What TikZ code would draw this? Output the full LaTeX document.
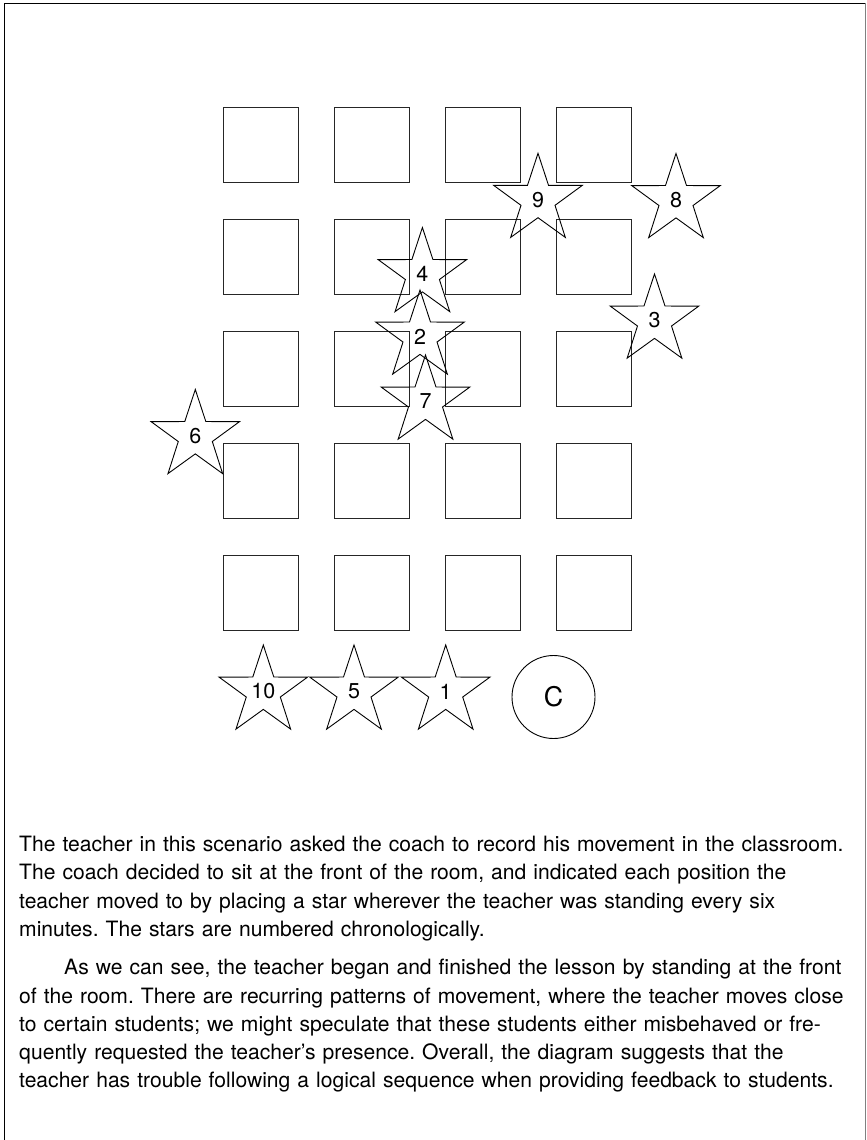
\documentclass[tikz,border=0pt]{standalone}
\usepackage{fontspec}
\setmainfont{TeX Gyre Heros}
\usepackage{tikz}
\usetikzlibrary{shapes.geometric}
\frenchspacing

\begin{document}
\begin{tikzpicture}[x=1pt, y=-1pt]
\tikzstyle{desk}=[rectangle, draw=black!85, line width=1.1pt, minimum size=75pt, anchor=north west, inner sep=0pt]
\tikzstyle{spot}=[star, star points=5, star point ratio=2.6, draw, line width=0.9pt, minimum size=93pt, inner sep=0pt, font=\fontsize{21.5}{21.5}\selectfont]
\tikzstyle{seat}=[circle, draw, line width=0.9pt, minimum size=83pt, inner sep=0pt, font=\fontsize{27}{27}\selectfont]
\tikzstyle{frame}=[line width=1.3pt]

\useasboundingbox (0,0) rectangle (867,1140);
\draw[frame] (4.5,1140) -- (4.5,3.5) -- (865.5,3.5);
\draw[frame, gray] (865.5,3.5) -- (865.5,1140);

% desks, five rows of four
\foreach \r in {0,...,4}
  \foreach \c in {0,...,3}
    \node[desk] (d\r\c) at (223+111*\c, 107+112*\r) {};

% where the teacher stood
\node[spot] (s1) at (445.7,691.5) {1};
\node[spot] (s2) at (420,336.5) {2};
\node[spot] (s3) at (654.5,320.5) {3};
\node[spot] (s4) at (422.4,274) {4};
\node[spot] (s5) at (354,691.5) {5};
\node[spot] (s6) at (195.3,436) {6};
\node[spot] (s7) at (425.5,401.5) {7};
\node[spot] (s8) at (676,200) {8};
\node[spot] (s9) at (538,199.8) {9};
\node[spot] (s10) at (263.3,691.5) {10};

\node[seat] (coach) at (553.5,697) {C};

\node[anchor=base west, text width=850pt, align=left, inner sep=0pt, font=\fontsize{21.1}{28.3}\selectfont] (story) at (19,851.5)
{The teacher in this scenario asked the coach to record his movement in the classroom.\\
The coach decided to sit at the front of the room, and indicated each position the\\
teacher moved to by placing a star wherever the teacher was standing every six\\
minutes. The stars are numbered chronologically.\\[10pt]
\hspace*{45pt}As we can see, the teacher began and finished the lesson by standing at the front\\
of the room. There are recurring patterns of movement, where the teacher moves close\\
to certain students; we might speculate that these students either misbehaved or fre-\\
quently requested the teacher’s presence. Overall, the diagram suggests that the\\
teacher has trouble following a logical sequence when providing feedback to students.};
\end{tikzpicture}
\end{document}
